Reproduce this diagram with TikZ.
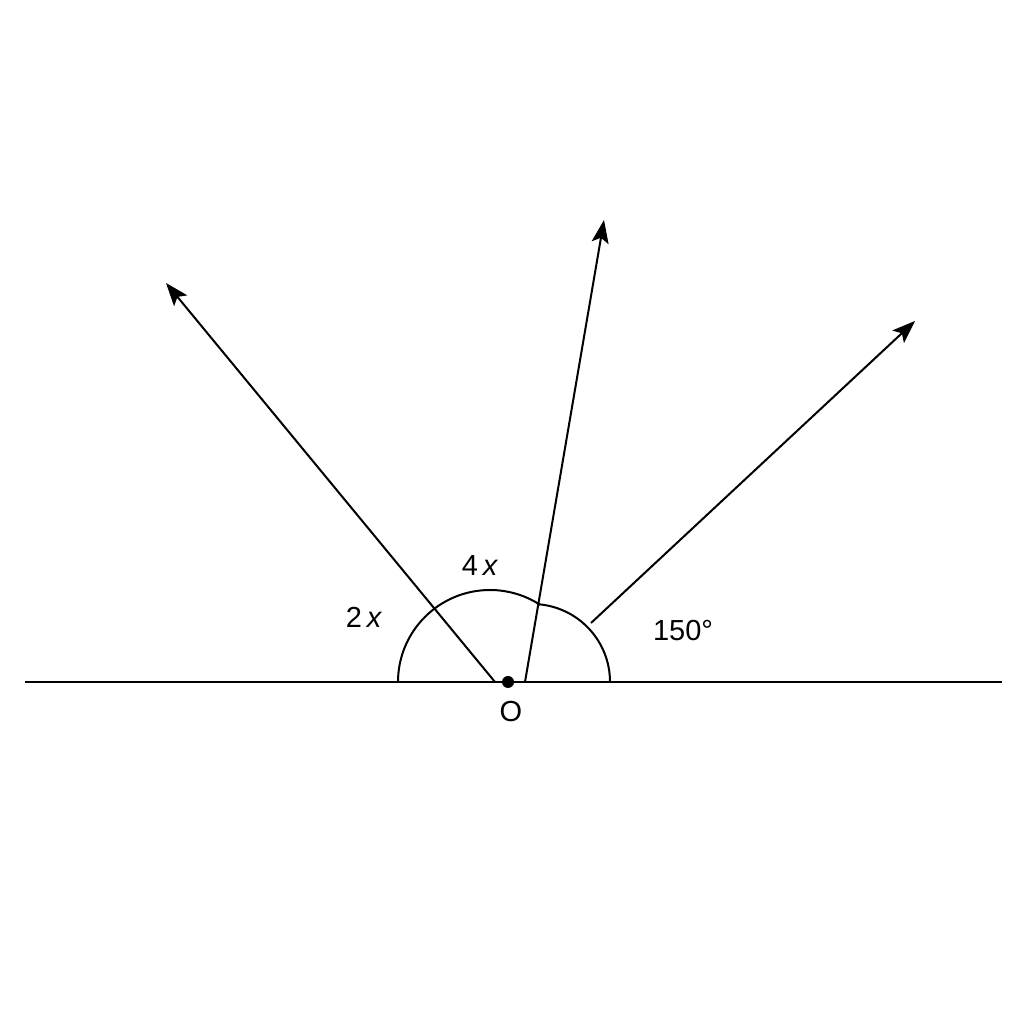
\documentclass[tikz,border=0pt]{standalone}
\usepackage{fontspec}
\setmainfont{Liberation Sans}
\usetikzlibrary{arrows.meta}
\begin{document}
\begin{tikzpicture}[x=1pt,y=1pt,
  ln/.style={line width=2pt,line cap=butt},
  ray/.style={ln,-{Stealth[length=23pt,width=17pt,inset=5pt]}},
  lbl/.style={inner sep=0pt,font=\fontsize{29}{33}\selectfont}]
\useasboundingbox (0,0) rectangle (1024,1024);
\fill[white] (0,0) rectangle (1024,1024);
% base line
\coordinate (L) at (25,342);
\coordinate (R) at (1002,342);
\draw[ln] (L) -- (R);
% rays
\coordinate (b1) at (495,342);
\coordinate (t1) at (166,741);
\coordinate (b2) at (525,342);
\coordinate (t2) at (604,804);
\coordinate (b3) at (591,401);
\coordinate (t3) at (915,703);
\draw[ray] (b1) -- (t1);
\draw[ray] (b2) -- (t2);
\draw[ray] (b3) -- (t3);
% arcs
\coordinate (a1) at (398,342);
\coordinate (a2) at (610,342);
\draw[ln] (a1) arc[start angle=180,end angle=57,radius=92];
\draw[ln] (a2) arc[start angle=0,end angle=86,radius=78];
% point O
\node[circle,fill=black,inner sep=0pt,minimum size=12pt] (O) at (508,342) {};
\node[lbl] (Olbl) at (511,312) {O};
% labels
\node[lbl] (l2x) at (364,407) {2\,\textit{x}};
\node[lbl] (l4x) at (480,458) {4\,\textit{x}};
\node[lbl] (l150) at (683,393) {150°};
\end{tikzpicture}
\end{document}
